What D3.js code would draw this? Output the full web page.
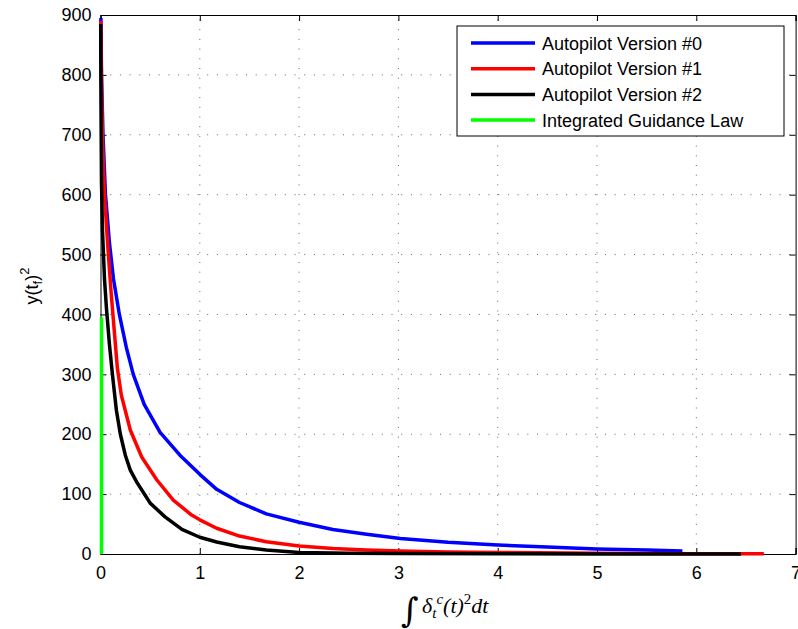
<!DOCTYPE html>
<html><head><meta charset="utf-8">
<script src="https://cdn.jsdelivr.net/npm/d3@7/dist/d3.min.js"></script>
<style>body{margin:0;background:#fff}svg{display:block}</style>
</head><body>
<svg id="chart" width="798" height="629"></svg>
<script>
const xTicks = [0,1,2,3,4,5,6,7];
const yTicks = [0,100,200,300,400,500,600,700,800,900];
const seriesNames = ["Autopilot Version #0","Autopilot Version #1","Autopilot Version #2","Integrated Guidance Law"];
const seriesColors = ["#0000ff","#ff0000","#000000","#00ff00"];
const v0x = [0.004,0.01,0.025,0.05,0.09,0.13,0.19,0.26,0.33,0.44,0.6,0.80,1.0,1.17,1.40,1.67,2.0,2.34,2.68,3.02,3.5,4.0,4.5,5.0,5.5,5.86];
const v0y = [895,800,700,600,520,460,400,345,300,250,203,165,133,108,86,67,53,41,33,26,19.5,15,11.5,8.5,6.5,5];
const v1x = [0.003,0.01,0.02,0.04,0.075,0.11,0.145,0.17,0.21,0.30,0.415,0.566,0.733,0.918,1.0,1.17,1.40,1.67,2.0,2.34,2.68,3.02,3.5,4.0,5.0,6.0,6.68];
const v1y = [890,780,690,600,510,430,360,310,265,207,162,124,90,65,57,43,30,20.5,13.5,9,6.7,5,3.5,2.5,1.3,0.6,0.3];
const v2x = [0.002,0.005,0.01,0.02,0.04,0.06,0.09,0.12,0.16,0.2,0.25,0.3,0.365,0.45,0.5,0.65,0.82,1.0,1.17,1.40,1.67,2.0,2.5,3.0,4.0,5.0,6.45];
const v2y = [885,750,620,540,460,410,350,300,240,200,165,140,120,98,85,62,41,28,20,12,6.7,2.5,1.2,0.7,0.3,0.1,0.05];
const igx = [0.01,0.01];
const igy = [0,395];

const svg = d3.select("#chart");
const L = 100.5, R = 795.6, T = 15, B = 554;
const x = d3.scaleLinear().domain([0,7]).range([L,R]);
const y = d3.scaleLinear().domain([0,900]).range([B,T]);
const font = "'Liberation Sans', Arial, Helvetica, sans-serif";
const fs = "18px";

// grid
const g = svg.append("g");
g.selectAll(".gx").data(xTicks.slice(1,-1)).enter().append("line")
  .attr("x1",d=>x(d)).attr("x2",d=>x(d)).attr("y1",B).attr("y2",T)
  .attr("stroke","#666").attr("stroke-width",1).attr("stroke-dasharray","1,8.7");
g.selectAll(".gy").data(yTicks.slice(1,-1)).enter().append("line")
  .attr("y1",d=>y(d)).attr("y2",d=>y(d)).attr("x1",L).attr("x2",R)
  .attr("stroke","#666").attr("stroke-width",1).attr("stroke-dasharray","1,8.7");

// axes
const xAxisB = d3.axisBottom(x).tickValues(xTicks).tickSize(-6).tickPadding(12).tickFormat(d3.format("d"));
const xAxisT = d3.axisTop(x).tickValues(xTicks).tickSize(-6).tickFormat("");
const yAxisL = d3.axisLeft(y).tickValues(yTicks).tickSize(-6).tickPadding(9).tickFormat(d3.format("d"));
const yAxisR = d3.axisRight(y).tickValues(yTicks).tickSize(-6).tickFormat("");
function style(sel){
  sel.select(".domain").attr("stroke","#000").attr("stroke-width",1);
  sel.selectAll(".tick line").attr("stroke","#000");
  sel.selectAll("text").attr("font-family",font).attr("font-size",fs).attr("fill","#000");
}
svg.append("g").attr("transform",`translate(0,${B})`).call(xAxisB).call(style);
svg.append("g").attr("transform",`translate(0,${T})`).call(xAxisT).call(style);
svg.append("g").attr("transform",`translate(${L},0)`).call(yAxisL).call(style);
svg.append("g").attr("transform",`translate(${R},0)`).call(yAxisR).call(style);

// series
const data = [[v0x,v0y],[v1x,v1y],[v2x,v2y],[igx,igy]];
const line = d3.line().x(d=>x(d[0])).y(d=>y(d[1]));
data.forEach((s,i)=>{
  const pts = s[0].map((v,j)=>[v,s[1][j]]);
  svg.append("path").datum(pts).attr("d",line).attr("fill","none")
    .attr("stroke",seriesColors[i]).attr("stroke-width",3.5).attr("stroke-linejoin","round");
});

// legend
const lg = svg.append("g");
lg.append("rect").attr("x",457).attr("y",26).attr("width",327).attr("height",110)
  .attr("fill","#fff").attr("stroke","#000").attr("stroke-width",1);
seriesNames.forEach((n,i)=>{
  const yy = 43 + i*25.7;
  lg.append("line").attr("x1",471).attr("x2",535).attr("y1",yy).attr("y2",yy)
    .attr("stroke",seriesColors[i]).attr("stroke-width",3.5);
  lg.append("text").attr("x",542).attr("y",yy+6.5).text(n)
    .attr("font-family",font).attr("font-size",fs).attr("fill","#000");
});

// y label
const yl = svg.append("text").attr("transform","translate(38,286) rotate(-90)")
  .attr("text-anchor","middle").attr("font-family",font).attr("font-size",fs).attr("fill","#000");
yl.append("tspan").text("y(t");
yl.append("tspan").text("f").attr("font-size","13px").attr("dy","4");
yl.append("tspan").text(")").attr("dy","-4");
yl.append("tspan").text("2").attr("font-size","13px").attr("dy","-9");

// x label
svg.append("text").attr("x",401).attr("y",622).text("∫")
  .attr("font-family","'DejaVu Serif', serif").attr("font-size","34px").attr("fill","#000")
  .attr("transform","translate(0,0)");
const xl = svg.append("text").attr("x",422).attr("y",613)
  .attr("font-family","'Liberation Serif', serif").attr("font-size","22px").attr("font-style","italic").attr("fill","#000");
xl.append("tspan").text("δ");
xl.append("tspan").text("t").attr("font-size","15px").attr("dy","5");
xl.append("tspan").text("c").attr("font-size","15px").attr("dy","-14");
xl.append("tspan").text("(t)").attr("dy","9");
xl.append("tspan").text("2").attr("font-size","15px").attr("font-style","normal").attr("dy","-9");
xl.append("tspan").text("dt").attr("dy","9");
</script>
</body></html>
